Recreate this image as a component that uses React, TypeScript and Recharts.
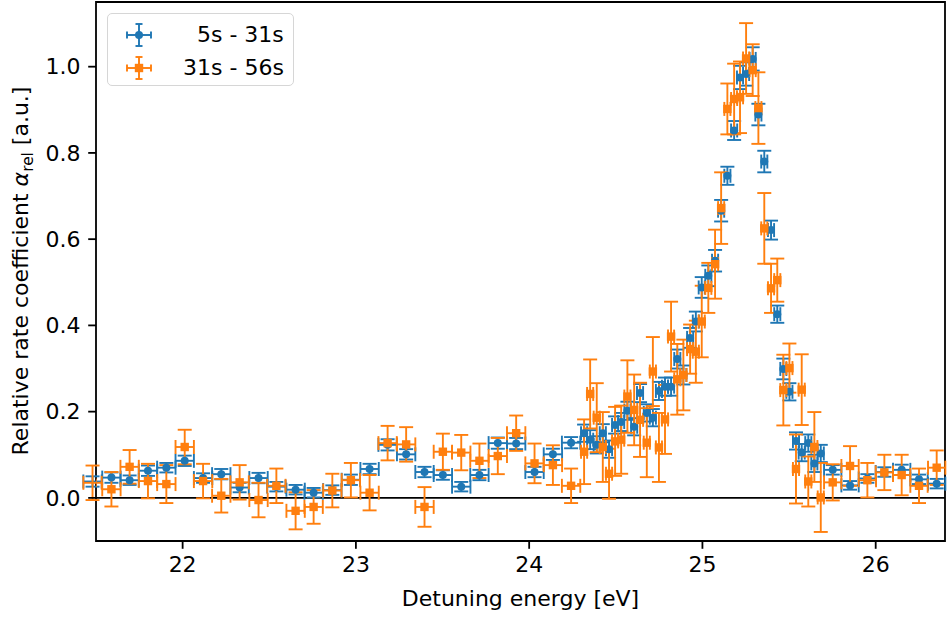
import {
  ScatterChart,
  Scatter,
  XAxis,
  YAxis,
  ErrorBar,
  ReferenceLine,
  ReferenceArea,
} from "recharts";

const BLUE = "#1f77b4";
const ORANGE = "#ff7f0e";
const FONT = "'DejaVu Sans', sans-serif";

// bin centres [eV]: coarse scan below the resonance, fine scan across it, coarse above
const energyLow = [
  21.48, 21.589, 21.694, 21.8, 21.906, 22.012, 22.118, 22.223, 22.329, 22.438, 22.541, 22.652,
  22.756, 22.864, 22.971, 23.079, 23.183, 23.29, 23.396, 23.502, 23.608, 23.713, 23.819, 23.925,
  24.031, 24.137, 24.242,
];
const energyFine = [
  24.317, 24.352, 24.39, 24.425, 24.461, 24.496, 24.531, 24.567, 24.606, 24.64, 24.679, 24.714,
  24.749, 24.784, 24.819, 24.855, 24.89, 24.929, 24.962, 24.996, 25.034, 25.073, 25.108, 25.144,
  25.183, 25.217, 25.252, 25.29, 25.323, 25.357, 25.396, 25.432, 25.467, 25.502, 25.54, 25.573,
  25.611, 25.646, 25.683,
];
const energyHigh = [25.752, 25.852, 25.952, 26.05, 26.15, 26.25, 26.352];
// half bin widths
const halfLow = 0.053;
const halfFine = 0.0176;
const halfHigh = 0.05;

// 5s - 31s
const early = [
  0.038, 0.047, 0.041, 0.063, 0.07, 0.086, 0.046, 0.055, 0.024, 0.046, 0.026, 0.019, 0.012, 0.018,
  0.042, 0.067, 0.123, 0.101, 0.06, 0.053, 0.026, 0.053, 0.127, 0.126, 0.06, 0.101, 0.128,
  0.15, 0.135, 0.123, 0.15, 0.113, 0.169, 0.176, 0.202, 0.165, 0.243, 0.197, 0.186, 0.248, 0.258,
  0.258, 0.322, 0.285, 0.371, 0.409, 0.488, 0.515, 0.55, 0.666, 0.747, 0.852, 0.975, 0.983, 1.018,
  0.889, 0.78, 0.621, 0.426, 0.299, 0.246, 0.132, 0.105, 0.127, 0.08, 0.103,
  0.065, 0.029, 0.045, 0.06, 0.065, 0.043, 0.033,
];
const earlyErr = [
  0.012, 0.012, 0.011, 0.012, 0.011, 0.012, 0.011, 0.012, 0.011, 0.012, 0.011, 0.011, 0.011, 0.011,
  0.012, 0.012, 0.013, 0.012, 0.012, 0.011, 0.011, 0.012, 0.013, 0.013, 0.012, 0.013, 0.013,
  0.02, 0.022, 0.02, 0.021, 0.02, 0.02, 0.021, 0.021, 0.02, 0.021, 0.02, 0.02, 0.021, 0.021, 0.021,
  0.022, 0.022, 0.023, 0.023, 0.024, 0.024, 0.025, 0.025, 0.021, 0.022, 0.027, 0.027, 0.027, 0.025,
  0.025, 0.022, 0.02, 0.024, 0.02, 0.02, 0.02, 0.02, 0.02, 0.02,
  0.011, 0.01, 0.01, 0.011, 0.012, 0.011, 0.011,
];

// 31s - 56s
const late = [
  0.035, 0.02, 0.072, 0.039, 0.032, 0.118, 0.039, 0.005, 0.036, -0.005, 0.028, -0.03, -0.021, 0.017,
  0.041, 0.012, 0.127, 0.124, -0.021, 0.107, 0.105, 0.086, 0.097, 0.15, 0.08, 0.076, 0.028,
  0.107, 0.241, 0.186, 0.118, 0.056, 0.131, 0.135, 0.235, 0.204, 0.181, 0.128, 0.293, 0.117, 0.182,
  0.374, 0.275, 0.285, 0.345, 0.339, 0.409, 0.487, 0.542, 0.672, 0.902, 0.925, 0.929, 1.019, 0.992,
  0.904, 0.625, 0.486, 0.505, 0.25, 0.301, 0.067, 0.251, 0.038, 0.118, 0.001,
  0.036, 0.074, 0.041, 0.059, 0.053, 0.028, 0.07,
];
const lateErr = [
  0.04, 0.04, 0.039, 0.04, 0.044, 0.04, 0.04, 0.039, 0.04, 0.04, 0.04, 0.043, 0.039, 0.039, 0.04,
  0.041, 0.04, 0.04, 0.046, 0.042, 0.041, 0.04, 0.042, 0.041, 0.046, 0.046, 0.04,
  0.075, 0.08, 0.08, 0.081, 0.058, 0.08, 0.079, 0.084, 0.082, 0.086, 0.08, 0.08, 0.08, 0.08, 0.081,
  0.082, 0.082, 0.057, 0.072, 0.083, 0.058, 0.08, 0.083, 0.059, 0.082, 0.083, 0.082, 0.06, 0.083,
  0.082, 0.057, 0.05, 0.082, 0.057, 0.08, 0.082, 0.058, 0.081, 0.08,
  0.042, 0.046, 0.04, 0.041, 0.047, 0.04, 0.04,
];

const xTicks = [22, 23, 24, 25, 26];
const yTicks = [0, 0.2, 0.4, 0.6, 0.8, 1.0];

const energy = [...energyLow, ...energyFine, ...energyHigh];
const halfWidth = [
  ...energyLow.map(() => halfLow),
  ...energyFine.map(() => halfFine),
  ...energyHigh.map(() => halfHigh),
];
const earlyData = energy.map((x, i) => ({ x, y: early[i], ex: halfWidth[i], ey: earlyErr[i] }));
const lateData = energy.map((x, i) => ({ x, y: late[i], ex: halfWidth[i], ey: lateErr[i] }));

const Dot = (p: any) => <circle cx={p.cx} cy={p.cy} r={4} fill={BLUE} />;
const Square = (p: any) => (
  <rect x={p.cx - 4.2} y={p.cy - 4.2} width={8.4} height={8.4} fill={ORANGE} />
);

function Handle({ color, square }: { color: string; square?: boolean }) {
  return (
    <svg width={30} height={26} style={{ display: "block" }}>
      <g stroke={color} strokeWidth={1.9}>
        <line x1={3} y1={13} x2={27} y2={13} />
        <line x1={3} y1={9.5} x2={3} y2={16.5} />
        <line x1={27} y1={9.5} x2={27} y2={16.5} />
        <line x1={15} y1={2} x2={15} y2={24} />
        <line x1={11.5} y1={2} x2={18.5} y2={2} />
        <line x1={11.5} y1={24} x2={18.5} y2={24} />
      </g>
      {square ? (
        <rect x={10.8} y={8.8} width={8.4} height={8.4} fill={color} />
      ) : (
        <circle cx={15} cy={13} r={4} fill={color} />
      )}
    </svg>
  );
}

function YLabel() {
  return (
    <text
      transform="translate(28, 271) rotate(-90)"
      textAnchor="middle"
      fontFamily={FONT}
      fontSize={22}
      fill="#000"
    >
      Relative rate coefficient{" "}
      <tspan fontStyle="italic">α</tspan>
      <tspan fontSize={15.4} dy={5}>
        rel
      </tspan>
      <tspan dy={-5}> [a.u.]</tspan>
    </text>
  );
}

export default function App() {
  const tickStyle = { fontSize: 22, fontFamily: FONT, fill: "#000" };
  return (
    <div style={{ position: "absolute", left: 0, top: 0, width: 947, height: 617, background: "#fff" }}>
      <ScatterChart width={947} height={617} margin={{ top: 2, right: 2, bottom: 0, left: 0 }}>
        <XAxis
          type="number"
          dataKey="x"
          domain={[21.5, 26.4]}
          allowDataOverflow
          ticks={xTicks}
          tickFormatter={(v) => String(v)}
          axisLine={false}
          tickSize={7.8}
          tickMargin={7.8}
          tickLine={{ stroke: "#000", strokeWidth: 1.8 }}
          tick={tickStyle}
          height={76}
          label={{
            value: "Detuning energy [eV]",
            position: "insideBottom",
            offset: 11,
            style: { fontSize: 22, fontFamily: FONT, fill: "#000" },
          }}
        />
        <YAxis
          type="number"
          dataKey="y"
          domain={[-0.1, 1.15]}
          allowDataOverflow
          ticks={yTicks}
          tickFormatter={(v) => v.toFixed(1)}
          axisLine={false}
          tickSize={7.8}
          tickMargin={7.8}
          tickLine={{ stroke: "#000", strokeWidth: 1.8 }}
          tick={tickStyle}
          width={96}
          label={<YLabel />}
        />
        <ReferenceLine y={0} stroke="#000" strokeWidth={1.8} />
        <Scatter data={earlyData} shape={Dot} isAnimationActive={false}>
          <ErrorBar dataKey="ey" direction="y" width={7} stroke={BLUE} strokeWidth={1.9} isAnimationActive={false} />
          <ErrorBar dataKey="ex" direction="x" width={7} stroke={BLUE} strokeWidth={1.9} isAnimationActive={false} />
        </Scatter>
        <Scatter data={lateData} shape={Square} isAnimationActive={false}>
          <ErrorBar dataKey="ey" direction="y" width={7} stroke={ORANGE} strokeWidth={1.9} isAnimationActive={false} />
          <ErrorBar dataKey="ex" direction="x" width={7} stroke={ORANGE} strokeWidth={1.9} isAnimationActive={false} />
        </Scatter>
        <ReferenceArea x1={21.5} x2={26.4} y1={-0.1} y2={1.15} fill="none" stroke="#000" strokeWidth={1.8} />
      </ScatterChart>
      <div
        style={{
          position: "absolute",
          left: 107,
          top: 13,
          width: 187,
          height: 73,
          boxSizing: "border-box",
          border: "1.5px solid #d6d6d6",
          borderRadius: 5,
          background: "rgba(255,255,255,0.8)",
          fontFamily: FONT,
          fontSize: 22,
          color: "#000",
          padding: "4px 0 0 16px",
        }}
      >
        <div style={{ display: "flex", alignItems: "center", height: 33 }}>
          <Handle color={BLUE} />
          <span style={{ whiteSpace: "pre", marginLeft: 29 }}>{"  5s - 31s"}</span>
        </div>
        <div style={{ display: "flex", alignItems: "center", height: 33 }}>
          <Handle color={ORANGE} square />
          <span style={{ whiteSpace: "pre", marginLeft: 29 }}>{"31s - 56s"}</span>
        </div>
      </div>
    </div>
  );
}
